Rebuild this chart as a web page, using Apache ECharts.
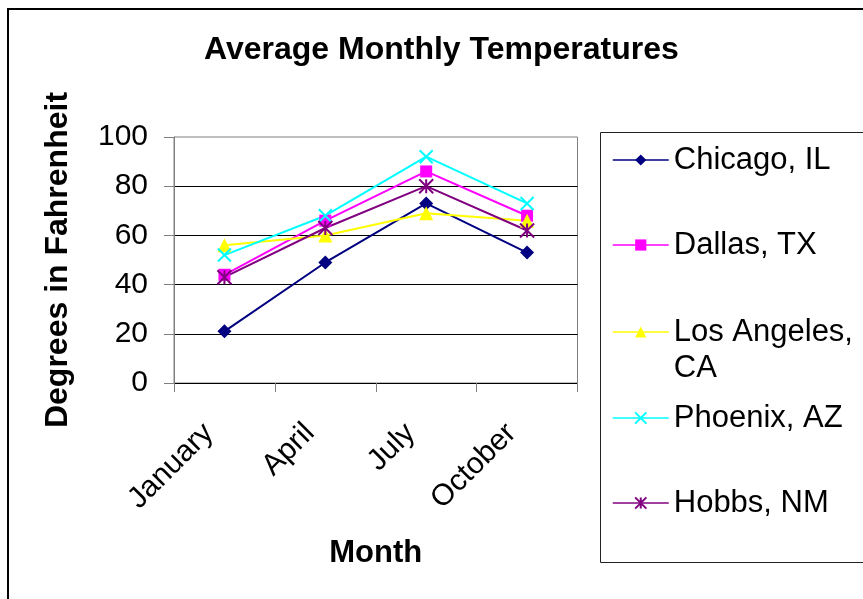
<!DOCTYPE html>
<html>
<head>
<meta charset="utf-8">
<title>Average Monthly Temperatures</title>
<script src="https://cdn.jsdelivr.net/npm/echarts@6/dist/echarts.min.js"></script>
<style>
  html, body { margin: 0; padding: 0; background: #fff; }
  #chart { width: 863px; height: 599px; }
</style>
</head>
<body>
<div id="chart"></div>
<script>
// Months shown on the category axis
const months = ['January', 'April', 'July', 'October'];

// Average temperatures (°F) per city
const chicago = [21, 49, 73, 53];
const dallas = [44, 66, 86, 68];
const losAngeles = [56, 60, 69, 66];
const phoenix = [52, 68, 92, 73];
const hobbs = [43, 63, 80, 62];

// Value axis ticks
const yTicks = [0, 20, 40, 60, 80, 100];

const FONT = '"Liberation Sans", Arial, sans-serif';

// Stroke-only marker shapes
const xMark = 'path://M0,0L10,10M10,0L0,10';
const starMark = 'path://M5,0L5,10M0,0L10,10M10,0L0,10';

const cities = [
  { name: 'Chicago, IL', data: chicago, color: '#000080', symbol: 'diamond', size: 14, stroke: false, legendTop: 142 },
  { name: 'Dallas, TX', data: dallas, color: '#FF00FF', symbol: 'rect', size: 12, stroke: false, legendTop: 227 },
  { name: 'Los Angeles, CA', data: losAngeles, color: '#FFFF00', symbol: 'triangle', size: 14, stroke: false, legendTop: 278 },
  { name: 'Phoenix, AZ', data: phoenix, color: '#00FFFF', symbol: xMark, size: 13, stroke: true, legendTop: 400 },
  { name: 'Hobbs, NM', data: hobbs, color: '#800080', symbol: starMark, size: 14, stroke: true, legendTop: 485 }
];

const series = cities.map(c => ({
  name: c.name,
  type: 'line',
  data: c.data,
  symbol: c.symbol,
  symbolSize: c.size,
  showAllSymbol: true,
  lineStyle: { color: c.color, width: 2 },
  itemStyle: c.stroke
    ? { color: c.color, borderColor: c.color, borderWidth: 2 }
    : { color: c.color, borderWidth: 0 },
  emphasis: { disabled: true }
}));

// One legend block per city; the Los Angeles label wraps onto a second line,
// with a blank leading line so the marker stays level with "Los Angeles,".
const legends = cities.map(c => {
  const twoLine = c.name === 'Los Angeles, CA';
  return {
    data: [c.name],
    left: 612,
    top: c.legendTop,
    orient: 'vertical',
    padding: 0,
    itemWidth: 56,
    itemHeight: 14,
    selectedMode: false,
    formatter: twoLine ? '\nLos Angeles,\nCA' : '{name}',
    lineStyle: { width: 1.5 },
    textStyle: {
      fontFamily: FONT,
      fontSize: 31,
      lineHeight: 36,
      color: '#000'
    }
  };
});

const chart = echarts.init(document.getElementById('chart'), null, { renderer: 'canvas' });

chart.setOption({
  animation: false,
  backgroundColor: '#fff',
  title: {
    text: 'Average Monthly Temperatures',
    left: 204,
    top: 34,
    padding: 0,
    textStyle: { fontFamily: FONT, fontSize: 32, fontWeight: 'bold', color: '#000' }
  },
  legend: legends,
  grid: {
    left: 174,
    right: 285.5,
    top: 137,
    bottom: 216,
    show: true,
    borderColor: '#808080',
    borderWidth: 1,
    backgroundColor: 'transparent'
  },
  xAxis: {
    type: 'category',
    data: months,
    boundaryGap: true,
    name: 'Month',
    nameLocation: 'middle',
    nameGap: 155,
    nameTextStyle: { fontFamily: FONT, fontSize: 31, fontWeight: 'bold', color: '#000' },
    axisLine: { show: true, lineStyle: { color: '#000', width: 1 } },
    axisTick: { show: true, interval: 0, length: 9, lineStyle: { color: '#808080' } },
    axisLabel: {
      interval: 0,
      rotate: 45,
      margin: 30,
      padding: [0, 22, 0, 0],
      fontFamily: FONT,
      fontSize: 30,
      color: '#000'
    },
    splitLine: { show: false }
  },
  yAxis: {
    type: 'value',
    min: yTicks[0],
    max: yTicks[yTicks.length - 1],
    interval: yTicks[1] - yTicks[0],
    name: 'Degrees in Fahrenheit',
    nameLocation: 'middle',
    nameRotate: 90,
    nameGap: 100,
    nameTextStyle: { fontFamily: FONT, fontSize: 32, fontWeight: 'bold', color: '#000' },
    axisLine: { show: true, lineStyle: { color: '#808080', width: 1 } },
    axisTick: { show: true, length: 10, lineStyle: { color: '#808080' } },
    axisLabel: { margin: 26, fontFamily: FONT, fontSize: 30, color: '#000' },
    splitLine: { show: true, showMaxLine: false, lineStyle: { color: '#000', width: 1 } }
  },
  graphic: [
    {
      type: 'rect',
      silent: true,
      shape: { x: 8, y: 9, width: 1000, height: 800 },
      style: { fill: 'none', stroke: '#000', lineWidth: 2 }
    },
    {
      type: 'rect',
      silent: true,
      shape: { x: 600.5, y: 132.5, width: 400, height: 430 },
      style: { fill: 'none', stroke: '#222', lineWidth: 1 }
    }
  ],
  series: series
});
</script>
</body>
</html>
